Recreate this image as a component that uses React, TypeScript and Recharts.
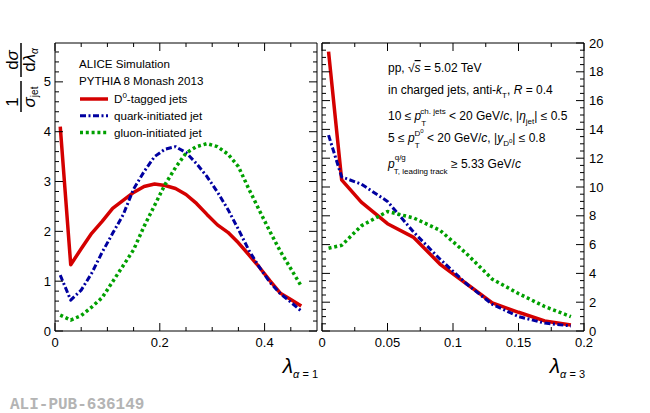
import React from "react";
import { LineChart, Line, XAxis, YAxis } from "recharts";

// lambda_{alpha=1} panel (left)
const leftX = [0.01, 0.03, 0.05, 0.07, 0.09, 0.11, 0.13, 0.15, 0.17, 0.19, 0.21, 0.23, 0.25, 0.27, 0.29, 0.31, 0.33, 0.35, 0.37, 0.39, 0.41, 0.43, 0.45, 0.47];
const leftD0 = [4.1, 1.33, 1.65, 1.96, 2.2, 2.46, 2.62, 2.78, 2.9, 2.95, 2.92, 2.86, 2.74, 2.56, 2.34, 2.13, 1.98, 1.77, 1.53, 1.28, 1.01, 0.76, 0.63, 0.5];
const leftQuark = [1.12, 0.62, 0.82, 1.16, 1.58, 1.96, 2.33, 2.85, 3.2, 3.5, 3.65, 3.7, 3.58, 3.36, 3.1, 2.79, 2.44, 2.04, 1.62, 1.28, 0.98, 0.75, 0.58, 0.4];
const leftGluon = [0.32, 0.22, 0.31, 0.48, 0.67, 0.99, 1.31, 1.63, 2.1, 2.52, 2.94, 3.28, 3.57, 3.7, 3.76, 3.7, 3.55, 3.3, 2.85, 2.42, 2.0, 1.6, 1.25, 0.9];

// lambda_{alpha=3} panel (right)
const rightX = [0.005, 0.015, 0.03, 0.05, 0.07, 0.09, 0.11, 0.13, 0.15, 0.17, 0.19];
const rightD0 = [19.4, 10.5, 8.95, 7.45, 6.5, 4.65, 3.3, 1.95, 1.3, 0.7, 0.42];
const rightQuark = [13.6, 10.7, 10.2, 9.0, 6.86, 5.0, 3.3, 1.85, 1.0, 0.55, 0.35];
const rightGluon = [5.75, 5.95, 7.3, 8.3, 7.85, 7.0, 5.4, 3.6, 2.6, 1.7, 1.0];

// ticks
const leftXTicks = [0, 0.05, 0.1, 0.15, 0.2, 0.25, 0.3, 0.35, 0.4, 0.45];
const leftXLabels = [0, 0.2, 0.4];
const leftYTicks = [0, 0.2, 0.4, 0.6, 0.8, 1, 1.2, 1.4, 1.6, 1.8, 2, 2.2, 2.4, 2.6, 2.8, 3, 3.2, 3.4, 3.6, 3.8, 4, 4.2, 4.4, 4.6, 4.8, 5, 5.2, 5.4, 5.6];
const leftYLabels = [0, 1, 2, 3, 4, 5];
const rightXTicks = [0, 0.025, 0.05, 0.075, 0.1, 0.125, 0.15, 0.175, 0.2];
const rightXLabels = [0, 0.05, 0.1, 0.15, 0.2];
const rightYTicks = [0, 0.5, 1, 1.5, 2, 2.5, 3, 3.5, 4, 4.5, 5, 5.5, 6, 6.5, 7, 7.5, 8, 8.5, 9, 9.5, 10, 10.5, 11, 11.5, 12, 12.5, 13, 13.5, 14, 14.5, 15, 15.5, 16, 16.5, 17, 17.5, 18, 18.5, 19, 19.5, 20];
const rightYLabels = [0, 2, 4, 6, 8, 10, 12, 14, 16, 18, 20];

const FONT = "'Liberation Sans', Arial, Helvetica, sans-serif";

const series = [
  { key: "d0", name: "D0-tagged jets", color: "#d40000", width: 3.5, dash: undefined },
  { key: "quark", name: "quark-initiated jet", color: "#0000a0", width: 3, dash: "6 2.5 2 2.5" },
  { key: "gluon", name: "gluon-initiated jet", color: "#00a000", width: 3.5, dash: "3 2.8" },
];

const zip = (xs: number[], ys: number[]) => xs.map((x, i) => ({ x, y: ys[i] }));

const isIn = (v: number, list: number[]) => list.some((m) => Math.abs(m - v) < 1e-9);

function FrameTick(props: any) {
  const { x, y, payload, side, labels, showLabel } = props;
  const v = payload.value;
  const major = isIn(v, labels);
  const len = major ? 8 : 4;
  const label = showLabel && major ? String(v) : null;
  let d = "";
  let text = null;
  if (side === "bottom") {
    d = `M${x},${y}V${y - len}`;
    if (label)
      text = (
        <text x={x} y={y + 16} textAnchor="middle" fontSize={13} fontFamily={FONT} fill="#000">
          {label}
        </text>
      );
  } else if (side === "top") {
    d = `M${x},${y}V${y + len}`;
  } else if (side === "left") {
    d = `M${x},${y}H${x + len}`;
    if (label)
      text = (
        <text x={x - 4} y={y + 4.5} textAnchor="end" fontSize={13} fontFamily={FONT} fill="#000">
          {label}
        </text>
      );
  } else {
    d = `M${x},${y}H${x - len}`;
    if (label)
      text = (
        <text x={x + 5} y={y + 4.5} textAnchor="start" fontSize={13} fontFamily={FONT} fill="#000">
          {label}
        </text>
      );
  }
  return (
    <g>
      <path d={d} stroke="#000" strokeWidth={1} fill="none" />
      {text}
    </g>
  );
}

const tickOf = (side: string, labels: number[], showLabel: boolean) => (p: any) => (
  <FrameTick {...p} side={side} labels={labels} showLabel={showLabel} />
);

function Panel(props: {
  width: number;
  margin: any;
  xDomain: number[];
  yDomain: number[];
  xTicks: number[];
  xLabels: number[];
  yTicks: number[];
  yLabels: number[];
  yOnRight: boolean;
  xs: number[];
  values: number[][];
}) {
  const { width, margin, xDomain, yDomain, xTicks, xLabels, yTicks, yLabels, yOnRight, xs, values } = props;
  const axisProps = {
    stroke: "#000",
    axisLine: { stroke: "#000", strokeWidth: 1 },
    tickLine: false,
    tickSize: 0,
    tickMargin: 0,
    interval: 0 as const,
    allowDataOverflow: true,
  };
  return (
    <LineChart width={width} height={413} margin={margin}>
      <XAxis xAxisId="b" type="number" dataKey="x" domain={xDomain} ticks={xTicks} height={30} {...axisProps} tick={tickOf("bottom", xLabels, true)} />
      <XAxis xAxisId="t" orientation="top" type="number" dataKey="x" domain={xDomain} ticks={xTicks} height={1} {...axisProps} tick={tickOf("top", xLabels, false)} />
      <YAxis yAxisId="l" orientation="left" type="number" domain={yDomain} ticks={yTicks} width={yOnRight ? 1 : 55} {...axisProps} tick={tickOf("left", yLabels, !yOnRight)} />
      <YAxis yAxisId="r" orientation="right" type="number" domain={yDomain} ticks={yTicks} width={yOnRight ? 40 : 1} {...axisProps} tick={tickOf("right", yLabels, yOnRight)} />
      {series.map((s, i) => (
        <Line
          key={s.key}
          xAxisId="b"
          yAxisId={yOnRight ? "r" : "l"}
          data={zip(xs, values[i])}
          dataKey="y"
          type="linear"
          stroke={s.color}
          strokeWidth={s.width}
          strokeDasharray={s.dash}
          strokeLinejoin="round"
          dot={false}
          activeDot={false}
          isAnimationActive={false}
        />
      ))}
    </LineChart>
  );
}

function Overlay() {
  const sub = 8;
  return (
    <svg width={650} height={413} style={{ position: "absolute", left: 0, top: 0, pointerEvents: "none" }} fontFamily={FONT}>
      {/* y title */}
      <g transform="rotate(-90)" fill="#000">
        <text x={-102} y={18} fontSize={17} textAnchor="middle">1</text>
        <line x1={-112} x2={-81} y1={21} y2={21} stroke="#000" strokeWidth={1.5} />
        <text x={-97} y={35} fontSize={17} textAnchor="middle">
          <tspan fontStyle="italic">σ</tspan>
          <tspan fontSize={10} dy={3}>jet</tspan>
        </text>
        <text x={-60} y={18} fontSize={17} textAnchor="middle">
          d<tspan fontStyle="italic">σ</tspan>
        </text>
        <line x1={-77} x2={-43} y1={21} y2={21} stroke="#000" strokeWidth={1.5} />
        <text x={-60} y={35} fontSize={17} textAnchor="middle">
          d<tspan fontStyle="italic">λ</tspan>
          <tspan fontSize={10} dy={3} fontStyle="italic">α</tspan>
        </text>
      </g>

      {/* x titles */}
      <text x={318} y={373} textAnchor="end" fontSize={21}>
        <tspan fontStyle="italic">λ</tspan>
        <tspan fontSize={11} dy={5}>
          <tspan fontStyle="italic">α</tspan> = 1
        </tspan>
      </text>
      <text x={585} y={373} textAnchor="end" fontSize={21}>
        <tspan fontStyle="italic">λ</tspan>
        <tspan fontSize={11} dy={5}>
          <tspan fontStyle="italic">α</tspan> = 3
        </tspan>
      </text>

      {/* legend */}
      <g fontSize={11.6} fill="#000">
        <text x={79} y={68}>ALICE Simulation</text>
        <text x={79} y={85}>PYTHIA 8 Monash 2013</text>
        {series.map((s, i) => {
          const base = 103 + i * 16.8;
          return (
            <g key={s.key}>
              <line x1={80} x2={108} y1={base - 4} y2={base - 4} stroke={s.color} strokeWidth={s.width} strokeDasharray={s.dash} />
              <text x={114} y={base}>
                {i === 0 ? (
                  <>
                    D<tspan fontSize={sub} dy={-5}>0</tspan>
                    <tspan dy={5}>-tagged jets</tspan>
                  </>
                ) : (
                  s.name
                )}
              </text>
            </g>
          );
        })}
      </g>

      {/* annotations */}
      <g fontSize={12} fill="#000">
        <text x={388} y={72}>
          pp, √<tspan fontStyle="italic" textDecoration="overline">s</tspan> = 5.02 TeV
        </text>
        <text x={388} y={94}>
          in charged jets, anti-<tspan fontStyle="italic">k</tspan>
          <tspan fontSize={sub} dy={4}>T</tspan>
          <tspan dy={-4}>, </tspan>
          <tspan fontStyle="italic">R</tspan> = 0.4
        </text>
        <text x={388} y={120}>
          10 ≤ <tspan fontStyle="italic">p</tspan>
          <tspan fontSize={sub} dy={6}>T</tspan>
          <tspan fontSize={sub} dx={-5} dy={-12}>ch. jets</tspan>
          <tspan dy={6}> &lt; 20 GeV/</tspan>
          <tspan fontStyle="italic">c</tspan>, |<tspan fontStyle="italic">η</tspan>
          <tspan fontSize={sub} dy={4}>jet</tspan>
          <tspan dy={-4}>| ≤ 0.5</tspan>
        </text>
        <text x={388} y={142}>
          5 ≤ <tspan fontStyle="italic">p</tspan>
          <tspan fontSize={sub} dy={6}>T</tspan>
          <tspan fontSize={sub} dx={-5} dy={-12}>
            D<tspan fontSize={6} dy={-3}>0</tspan>
          </tspan>
          <tspan dy={9}> &lt; 20 GeV/</tspan>
          <tspan fontStyle="italic">c</tspan>, |<tspan fontStyle="italic">y</tspan>
          <tspan fontSize={sub} dy={4}>
            D<tspan fontSize={6} dy={-3}>0</tspan>
          </tspan>
          <tspan dy={-1}>| ≤ 0.8</tspan>
        </text>
        <text x={388} y={168}>
          <tspan fontStyle="italic">p</tspan>
          <tspan fontSize={sub} dy={-8}>q/g</tspan>
          <tspan fontSize={sub} dx={-12} dy={14}>T, leading track</tspan>
          <tspan dy={-6}> ≥ 5.33 GeV/</tspan>
          <tspan fontStyle="italic">c</tspan>
        </text>
      </g>

      <text x={10} y={409} fontSize={16} fontWeight="bold" fill="#b4b4b4" fontFamily="'Liberation Mono', 'DejaVu Sans Mono', monospace">
        ALI-PUB-636149
      </text>
    </svg>
  );
}

export default function App() {
  return (
    <div style={{ position: "absolute", left: 0, top: 0, width: 650, height: 413, background: "#fff" }}>
      <div style={{ position: "absolute", left: 0, top: 0 }}>
        <Panel
          width={330}
          margin={{ top: 42, right: 12, bottom: 52, left: 0 }}
          xDomain={[0, 0.5]}
          yDomain={[0, 5.78]}
          xTicks={leftXTicks}
          xLabels={leftXLabels}
          yTicks={leftYTicks}
          yLabels={leftYLabels}
          yOnRight={false}
          xs={leftX}
          values={[leftD0, leftQuark, leftGluon]}
        />
      </div>
      <div style={{ position: "absolute", left: 318, top: 0 }}>
        <Panel
          width={332}
          margin={{ top: 42, right: 26, bottom: 52, left: 3 }}
          xDomain={[0, 0.2]}
          yDomain={[0, 20]}
          xTicks={rightXTicks}
          xLabels={rightXLabels}
          yTicks={rightYTicks}
          yLabels={rightYLabels}
          yOnRight={true}
          xs={rightX}
          values={[rightD0, rightQuark, rightGluon]}
        />
      </div>
      <Overlay />
    </div>
  );
}
